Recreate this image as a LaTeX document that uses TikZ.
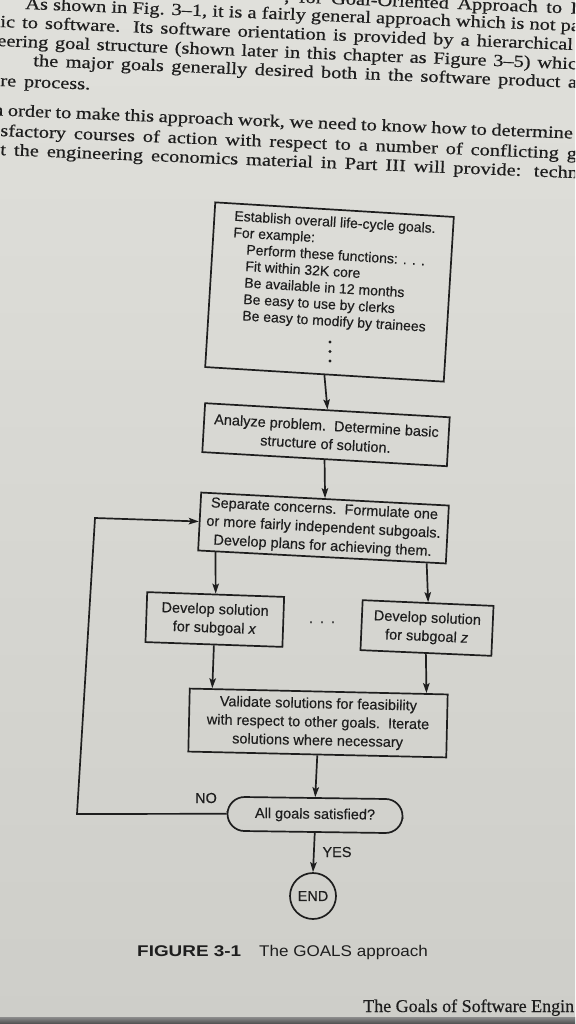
\documentclass[tikz,border=0pt]{standalone}
\usepackage{fontspec}
\setmainfont{Liberation Serif}[FakeBold=0.4]
\newfontfamily\flowfont{Liberation Sans}[FakeBold=0.3]
\newfontfamily\pagefont{Liberation Serif}[FakeStretch=1.2, FakeBold=0.5]
\newfontfamily\capfont{Liberation Sans}[FakeStretch=1.1]
\newfontfamily\capbold{Liberation Sans}[FakeStretch=1.22]
\usepackage{tikz}
\usetikzlibrary{arrows.meta, calc}
\definecolor{paperlight}{RGB}{224,224,219}
\definecolor{paperdark}{RGB}{206,206,201}
\definecolor{ink}{RGB}{30,30,30}

\begin{document}
\begin{tikzpicture}[
    x=1pt, y=-1pt,
    box/.style={
        rectangle,
        draw=ink,
        line width=1.7pt,
        align=center,
        inner sep=2pt,
        text=ink,
        font=\flowfont\fontsize{14.5pt}{18.5pt}\selectfont
    },
    flag/.style={text=ink, inner sep=0pt, font=\flowfont\fontsize{14.5pt}{18.5pt}\selectfont},
    pageline/.style={anchor=base west, rotate=-2.3, inner sep=0pt, text=ink,
        font=\pagefont\fontsize{17pt}{20pt}\selectfont},
    flow/.style={-{Stealth[length=10pt, width=6.5pt, inset=2pt]}, line width=1.7pt, draw=ink}
]

% page
\path[use as bounding box, clip] (0,0) rectangle (575,1024);
\shade[top color=paperlight, bottom color=paperdark] (0,0) rectangle (575,1024);
\shade[top color=black!45, bottom color=black!70] (0,1017) rectangle (575,1024);

% running text above the figure
\foreach \x/\y/\w/\txt [count=\i] in {
    284/2/299/{, for Goal-Oriented Approach to L},
    25/9/555/{As shown in Fig. 3–1, it is a fairly general approach which is not pa},
    0/27/573/{ic to software. Its software orientation is provided by a hierarchical},
    -3/46/580/{eering goal structure (shown later in this chapter as Figure 3–5) whic},
    33/66/544/{the major goals generally desired both in the software product a},
    0/86/90/{re process.},
    -14/115/587/{In order to make this approach work, we need to know how to determine},
    0/136/577/{sfactory courses of action with respect to a number of conflicting g},
    0/155/578/{t the engineering economics material in Part III will provide: techn}}
    \node[pageline] (pagetext\i) at (\x,\y) {\makebox[\w pt][s]{\txt}};

% flowchart
\node[box, minimum width=239pt, minimum height=165pt, rotate=-3.5] (goals) at (329.5,292)
    {\parbox[c][151pt][t]{219pt}{\fontsize{14pt}{16.5pt}\selectfont\raggedright\leftskip=10pt
    Establish overall life-cycle goals.\\
    For example:\\
    \hspace*{14pt}Perform these functions: . . .\\
    \hspace*{14pt}Fit within 32K core\\
    \hspace*{14pt}Be available in 12 months\\
    \hspace*{14pt}Be easy to use by clerks\\
    \hspace*{14pt}Be easy to modify by trainees}};
\foreach \y in {342,351.5,361}
    \fill[ink] (330,\y) circle (1.6pt);

\node[box, minimum width=245pt, minimum height=49pt, rotate=-3.3] (analyze) at (326,434.7)
    {Analyze problem.\ \ Determine basic\\structure of solution.};

\node[box, minimum width=248pt, minimum height=58pt, rotate=-3] (separate) at (323.5,528)
    {Separate concerns.\ \ Formulate one\\or more fairly independent subgoals.\\Develop plans for achieving them.};

\node[box, minimum width=137pt, minimum height=50pt, rotate=-2] (devx) at (214.8,619.5)
    {Develop solution\\for subgoal \textit{x}};
\node[flag, anchor=base] (between) at (322,623) {.\hspace{7pt}.\hspace{7pt}.};
\node[box, minimum width=131pt, minimum height=50pt, rotate=-2.5] (devz) at (427,628)
    {Develop solution\\for subgoal \textit{z}};

\node[box, minimum width=258pt, minimum height=63pt, rotate=-1.3] (validate) at (318,723)
    {Validate solutions for feasibility\\with respect to other goals.\ \ Iterate\\solutions where necessary};

\node[box, rounded corners=17pt, minimum width=175pt, minimum height=34pt, rotate=-0.8] (decide) at (315,815)
    {All goals satisfied?};
\node[box, circle, minimum size=46pt, inner sep=0pt] (finish) at (313,896) {END};

\node[flag] (nolabel) at (206,798) {NO};
\node[flag] (yeslabel) at (337,852) {YES};

\coordinate (loopbot) at (77,814);
\coordinate (looptop) at (95,518);

\draw[flow] (goals.south) -- (analyze.north);
\draw[flow] (analyze.south) -- (separate.north);
\draw[flow] ($(separate.south west)!0.073!(separate.south east)$) -- (devx.north);
\draw[flow] ($(separate.south west)!0.92!(separate.south east)$) -- (devz.north);
\draw[flow] (devx.south) -- ($(validate.north west)!0.09!(validate.north east)$);
\draw[flow] (devz.south) -- ($(validate.north west)!0.915!(validate.north east)$);
\draw[flow] (validate.south) -- (decide.north);
\draw[flow] (decide.south) -- (finish.north);
\draw[flow] (decide.west) -- (loopbot) -- (looptop) -- (separate.west);

% caption and running head
\node[anchor=base west, inner sep=0pt, text=ink, font=\capfont\fontsize{15.5pt}{18pt}\selectfont] (caption) at (137,956)
    {{\capbold\bfseries FIGURE 3-1}\hspace{18pt}The GOALS approach};
\node[anchor=base west, inner sep=0pt, text=ink, font=\fontsize{18pt}{20pt}\selectfont] (runninghead) at (363,1012)
    {The Goals of Software Engin};

\end{tikzpicture}
\end{document}
